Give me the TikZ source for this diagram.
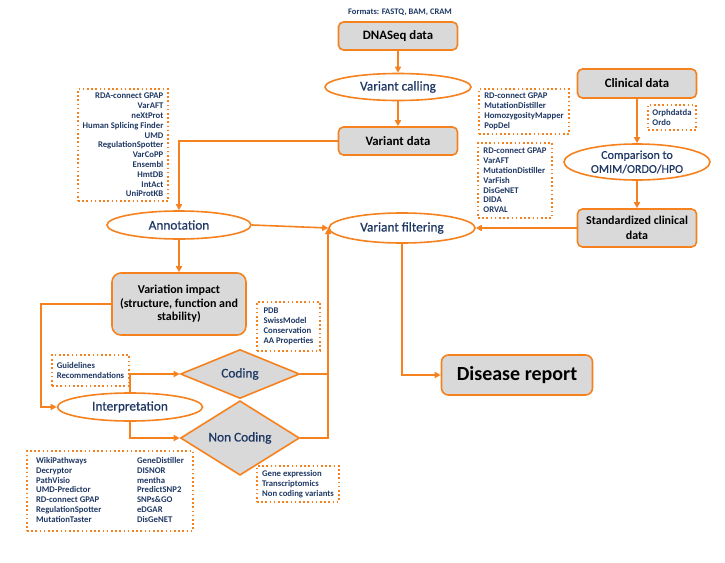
\documentclass[tikz,border=0pt]{standalone}
\usepackage{fontspec}
\setmainfont{Carlito}
\newfontfamily\semibold[FakeBold=0.6]{Carlito}
\usetikzlibrary{shapes.geometric,arrows.meta}
\definecolor{orng}{HTML}{F5821F}
\definecolor{boxgray}{HTML}{D9D9D9}
\definecolor{navy}{HTML}{1F3864}

\begin{document}
\begin{tikzpicture}[x=1pt,y=-1pt,
	databox/.style={rectangle, rounded corners=5pt, draw=orng, fill=boxgray, line width=1.6pt, text=black, align=center, inner sep=0pt, font=\fontsize{12.8}{15}\selectfont\bfseries},
	process/.style={ellipse, draw=orng, fill=white, line width=1.6pt, text=navy, align=center, inner sep=0pt, font=\semibold\fontsize{13.3}{15}\selectfont},
	decision/.style={diamond, draw=orng, fill=boxgray, line width=1.6pt, text=navy, inner sep=0pt, minimum width=119pt, minimum height=49pt, font=\semibold\fontsize{13.3}{15}\selectfont},
	toollist/.style={rectangle, draw=orng, line width=1.6pt, dash pattern=on 1.6pt off 2.6pt, text=navy, inner sep=0pt, font=\fontsize{8.7}{9.8}\selectfont\bfseries},
	flow/.style={draw=orng, line width=1.6pt, -{Triangle[length=6pt,width=6pt]}},
	link/.style={draw=orng, line width=1.6pt},
	]
	\useasboundingbox (0,0) rectangle (725,562);
	%Nodes
	\node[text=navy, font=\fontsize{8.5}{10}\selectfont\bfseries] (formats) at (400,12) {Formats: FASTQ, BAM, CRAM};
	%
	\node[databox, minimum width=119pt, minimum height=28pt] (dnaseq) at (398,36) {DNASeq data};
	%
	\node[process, minimum width=146pt, minimum height=27pt] (calling) at (398,87) {Variant calling};
	%
	\node[databox, minimum width=119pt, minimum height=28pt] (vardata) at (398,141) {Variant data};
	%
	\node[databox, minimum width=119pt, minimum height=29pt] (clinical) at (637,83.5) {Clinical data};
	%
	\node[process, minimum width=146pt, minimum height=36pt,
	font=\semibold\fontsize{12}{14}\selectfont] (compare) at (637,162) {Comparison to\\OMIM/ORDO/HPO};
	%
	\node[databox, minimum width=119pt, minimum height=38pt,
	font=\fontsize{12}{14.5}\selectfont\bfseries] (stdclin) at (637,228) {Standardized clinical\\data};
	%
	\node[process, minimum width=146pt, minimum height=30pt] (filter) at (402,228) {Variant filtering};
	%
	\node[process, minimum width=144pt, minimum height=28pt] (annot) at (179,225) {Annotation};
	%
	\node[databox, rounded corners=9pt, minimum width=134pt, minimum height=62pt,
	font=\fontsize{12}{13.5}\selectfont\bfseries] (impact) at (179,304) {Variation impact\\(structure, function and\\stability)};
	%
	\node[process, minimum width=145pt, minimum height=28pt] (interp) at (130,407) {Interpretation};
	%
	\node[decision] (coding) at (240,374) {Coding};
	\node[decision] (noncoding) at (240,438) {Non Coding};
	%
	\node[databox, rounded corners=7pt, minimum width=151pt, minimum height=40pt,
	font=\fontsize{20}{24}\selectfont\bfseries] (report) at (517,375) {Disease report};
	
	%Tool lists
	\node[toollist, minimum width=90pt, minimum height=112pt, align=right] (annottools) at (123,145)
	{RDA-connect GPAP\\VarAFT\\neXtProt\\Human Splicing Finder\\UMD\\RegulationSpotter\\VarCoPP\\Ensembl\\HmtDB\\IntAct\\UniProtKB};
	%
	\node[toollist, minimum width=90pt, minimum height=45pt, align=left] (callingtools) at (524,111.5)
	{RD-connect GPAP\\MutationDistiller\\HomozygosityMapper\\PopDel};
	%
	\node[toollist, minimum width=74pt, minimum height=75pt, align=left] (filtertools) at (515,180.5)
	{RD-connect GPAP\\VarAFT\\MutationDistiller\\VarFish\\DisGeNET\\DIDA\\ORVAL};
	%
	\node[toollist, minimum width=48pt, minimum height=25pt, align=left] (ontotools) at (672,117.5)
	{Orphdatda\\Ordo};
	%
	\node[toollist, minimum width=63pt, minimum height=49pt, align=left] (structtools) at (288.5,326.5)
	{PDB\\SwissModel\\Conservation\\AA Properties};
	%
	\node[toollist, minimum width=77pt, minimum height=31pt, align=left] (guidetools) at (90.5,370.5)
	{Guidelines\\Recommendations};
	%
	\node[toollist, minimum width=82pt, minimum height=36pt, align=left] (nctools) at (298,484)
	{Gene expression\\Transcriptomics\\Non coding variants};
	%
	\node[toollist, minimum width=166pt, minimum height=80pt] (interptools) at (110,491)
	{\begin{tabular}{@{}p{101pt}@{}l@{}}
		WikiPathways & GeneDistiller\\
		Decryptor & DISNOR\\
		PathVisio & mentha\\
		UMD-Predictor & PredictSNP2\\
		RD-connect GPAP & SNPs\&GO\\
		RegulationSpotter & eDGAR\\
		MutationTaster & DisGeNET
	\end{tabular}};
	
	%Connectors
	\draw[flow] (dnaseq) -- (calling);
	\draw[flow] (calling) -- (vardata);
	\draw[flow] (vardata.west) -| (annot.north);
	\draw[flow] (annot) -- (impact);
	\draw[flow] (annot.east) -- (filter.west);
	%
	\draw[flow] (clinical) -- (compare);
	\draw[flow] (compare) -- (stdclin);
	\draw[flow] (stdclin) -- (filter);
	%
	\draw[flow] (impact.west) -- ++(-70,0) |- (interp.west);
	\draw[flow] (interp.north) |- (coding.west);
	\draw[flow] (interp.south) |- (noncoding.west);
	%
	\draw[link] (coding.east) -- (coding.east -| filter.west);
	\draw[flow] (noncoding.east) -| (filter.west);
	%
	\draw[flow] (filter.south) |- (report.west);
\end{tikzpicture}
\end{document}
